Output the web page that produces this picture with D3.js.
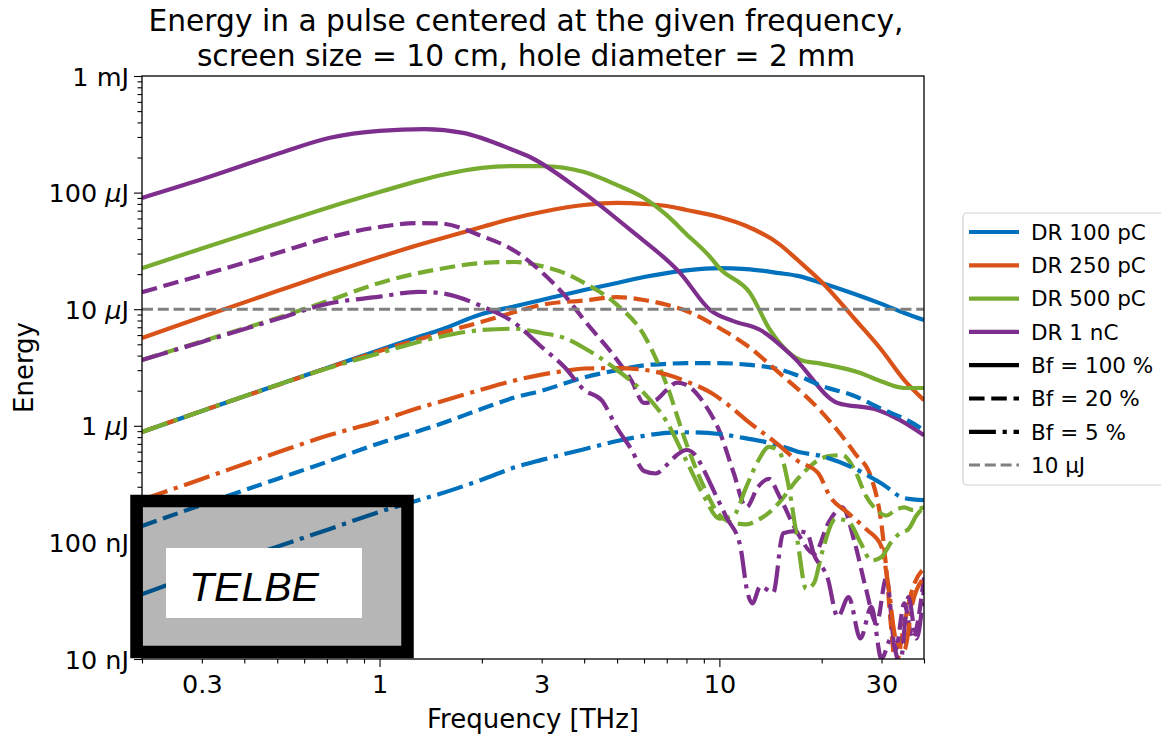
<!DOCTYPE html>
<html><head><meta charset="utf-8">
<script src="https://cdn.jsdelivr.net/npm/d3@7"></script>
<style>
body{margin:0;background:#fff}
svg{display:block}
text{font-family:"DejaVu Sans",sans-serif;fill:#000}
</style>
</head><body>
<svg id="chart" width="1161" height="738"></svg>
<script>
// ---------- data (frequency in THz, energy in µJ) ----------
const colors = {"DR 100 pC":"#0072BD","DR 250 pC":"#D95319","DR 500 pC":"#77AC30","DR 1 nC":"#7E2F8E"};
const charges = ["DR 100 pC","DR 250 pC","DR 500 pC","DR 1 nC"];
const bunchFactors = ["Bf = 100 %","Bf = 20 %","Bf = 5 %"];

const freqGrid = [0.2,0.3,0.5,0.7,1,1.3,1.5,2,2.5,3,4,5,6,7,8,10,12,15,17,20,25,30,35,40];

const f_DR100_Bf100 = freqGrid;
const e_DR100_Bf100 = [0.885,1.34,2.24,3.13,4.47,5.78,6.6,9.1,10.6,12.0,14.6,16.8,18.9,20.4,21.5,22.5,22.1,20.4,19.3,16.8,13.5,11.1,9.27,8.07];
const f_DR250_Bf100 = freqGrid;
const e_DR250_Bf100 = [5.66,8.57,14.3,20.0,28.0,35.5,40.0,50.7,60.6,68.2,78.3,81.5,80,76.8,71,61.8,51.7,36.2,26.4,17.1,8.24,4.47,2.47,1.66];
const f_DR500_Bf100 = [0.2,0.3,0.5,0.7,1,1.3,1.5,2,2.5,3,4,5,6,7,8,9.4,10,12.3,14.1,17.3,20,26,30,35,40];
const e_DR500_Bf100 = [22.5,33.2,53.8,73.8,101,126,140,163,169,169,150,116,90,64,44,28,22.5,13.8,6.63,3.67,3.4,2.84,2.4,2.11,2.11];
const f_DR1000_Bf100 = [0.2,0.3,0.5,0.715,1,1.36,1.76,2.47,2.77,3.89,5.47,7.67,9.4,11,13.2,16.5,22.3,29.1,34,40];
const e_DR1000_Bf100 = [90,130,214,295,338,350,325,232,202,105,47.8,20.4,9.84,7.9,6.63,3.89,1.57,1.37,1.12,0.83];

const f_DR100_Bf20 = freqGrid;
const e_DR100_Bf20 = [0.138,0.21,0.35,0.49,0.71,0.9,1.03,1.4,1.75,2.0,2.6,3.0,3.3,3.4,3.45,3.45,3.35,3.05,2.7,2.2,1.8,1.4,1.15,0.92];
const f_DR250_Bf20 = [0.2,0.3,0.5,0.7,1,1.3,1.5,2,2.5,3,4,5,6,7,8,10,12,15,20,25,28,30,31,32,33,35,37,40];
const e_DR250_Bf20 = [0.885,1.34,2.23,3.12,4.37,5.5,6.2,7.8,9.45,10.9,11.9,12.7,12.0,10.9,9.66,6.9,4.93,2.84,1.31,0.585,0.356,0.141,0.058,0.0188,0.009,0.02,0.04,0.06];
const f_DR500_Bf20 = [0.2,0.3,0.5,0.7,1,1.3,1.5,2,2.5,3,3.5,4,5,6,7,8,9,10,11,12,13,14,15,17,19,21,23,25,27,29,31,33,35,37,40];
const e_DR500_Bf20 = [3.67,5.3,8.4,11.7,16.8,20.4,22.1,24.9,25.4,23.4,20.4,16.8,10.9,6.0,2.24,0.7,0.3,0.172,0.147,0.143,0.156,0.18,0.22,0.35,0.48,0.55,0.56,0.42,0.25,0.19,0.17,0.19,0.2,0.19,0.2];
const f_DR1000_Bf20 = [0.2,0.3,0.5,0.7,1,1.3,1.5,2,2.5,3,3.5,4,5,5.5,6,6.5,7,7.5,8,9,10,11,12,13,14,15,17,19,21,23,25,27,29,31,33,35,37,40];
const e_DR1000_Bf20 = [14.0,19.6,30.3,40.8,50.7,54.8,54.5,42.4,31.6,20.8,13.2,8.07,3.67,2.47,1.57,1.66,2.03,2.35,2.24,1.57,0.9,0.4,0.2,0.3,0.35,0.25,0.12,0.08,0.15,0.2,0.1,0.04,0.02,0.05,0.012,0.03,0.015,0.05];

const f_DR100_Bf5 = freqGrid;
const e_DR100_Bf5 = [0.036,0.055,0.092,0.128,0.183,0.23,0.26,0.345,0.44,0.51,0.63,0.74,0.82,0.87,0.88,0.85,0.78,0.68,0.6,0.55,0.43,0.32,0.24,0.23];
const f_DR250_Bf5 = [0.2,0.3,0.5,0.7,1,1.3,1.5,2,2.5,3,3.5,4,5,6,7,8,9.5,10.5,12,14.8,17,19.5,21.2,23.9,27.2,29.9,31.5,33,35,37,40];
const e_DR250_Bf5 = [0.232,0.35,0.59,0.82,1.1,1.42,1.6,2.05,2.45,2.75,2.95,3.1,3.12,3.02,2.75,2.4,1.9,1.55,1.12,0.7,0.5,0.394,0.245,0.179,0.128,0.094,0.04,0.015,0.012,0.03,0.05];
const f_DR500_Bf5 = [0.2,0.3,0.5,0.7,1,1.3,1.5,2,2.5,3,3.5,4,5,6,7,8,9,10,11,12,13,14,15,16,17,18,19,20,22,24,26,28,30,32,34,36,38,40];
const e_DR500_Bf5 = [0.885,1.34,2.24,3.1,4.2,5.24,5.78,6.63,6.8,6.25,5.66,4.65,3.01,1.91,1.08,0.5,0.25,0.16,0.17,0.3,0.5,0.66,0.6,0.3,0.1,0.04,0.045,0.08,0.16,0.15,0.1,0.07,0.075,0.1,0.12,0.13,0.17,0.2];
const f_DR1000_Bf5 = [0.2,0.3,0.5,0.7,1,1.3,1.5,2,2.5,3,3.5,4,4.5,5,5.5,6,6.5,7,7.5,8,8.5,9,9.5,10.5,11.5,12.1,12.5,13.2,14.4,15.4,16.9,18.1,19,20.8,22.3,24,26,28,30,32,34,36,38,40];
const e_DR1000_Bf5 = [3.67,5.24,8.24,11.1,12.8,14.1,13.8,10.6,7.6,4.74,3.19,2.03,1.66,0.957,0.632,0.41,0.39,0.461,0.562,0.62,0.56,0.418,0.30,0.163,0.095,0.037,0.03,0.042,0.037,0.12,0.125,0.12,0.078,0.05,0.023,0.034,0.015,0.028,0.01,0.015,0.009,0.034,0.015,0.041];

const referenceLevel = 10; // µJ
const xTickValuesMajor = [1,10];
const xTickValuesMinor = [0.2,0.3,0.4,0.5,0.6,0.7,0.8,0.9,2,3,4,5,6,7,8,9,20,30,40];
const xTickLabels = {0.3:"0.3",1:"1",3:"3",10:"10",30:"30"};
const yTickValuesMajor = [0.01,0.1,1,10,100,1000];
const yTickLabels = [["10 ","nJ"],["100 ","nJ"],["1 ","µJ"],["10 ","µJ"],["100 ","µJ"],["1 ","mJ"]];
const titleLines = ["Energy in a pulse centered at the given frequency,","screen size = 10 cm, hole diameter = 2 mm"];

const series = [
  [f_DR100_Bf100,e_DR100_Bf100,0,0],[f_DR250_Bf100,e_DR250_Bf100,1,0],[f_DR500_Bf100,e_DR500_Bf100,2,0],[f_DR1000_Bf100,e_DR1000_Bf100,3,0],
  [f_DR100_Bf20,e_DR100_Bf20,0,1],[f_DR250_Bf20,e_DR250_Bf20,1,1],[f_DR500_Bf20,e_DR500_Bf20,2,1],[f_DR1000_Bf20,e_DR1000_Bf20,3,1],
  [f_DR100_Bf5,e_DR100_Bf5,0,2],[f_DR250_Bf5,e_DR250_Bf5,1,2],[f_DR500_Bf5,e_DR500_Bf5,2,2],[f_DR1000_Bf5,e_DR1000_Bf5,3,2]
];

// ---------- layout ----------
const svg = d3.select("#chart");
const L=142, R=924, T=76, B=659;
const x = d3.scaleLog().domain([0.2,40]).range([L,R]);
const y = d3.scaleLog().domain([0.01,1000]).range([B,T]);
const LW = 4.2;
const dashes = [null, `${3.7*LW},${1.6*LW}`, `${6.4*LW},${1.6*LW},${1*LW},${1.6*LW}`];

svg.append("defs").append("clipPath").attr("id","clip")
  .append("rect").attr("x",L).attr("y",T).attr("width",R-L).attr("height",B-T);

const plot = svg.append("g").attr("clip-path","url(#clip)");
const line = d3.line().x(d=>x(d[0])).y(d=>y(d[1])).curve(d3.curveMonotoneX);

series.forEach(([fs,es,ci,bi])=>{
  plot.append("path")
    .datum(fs.map((f,i)=>[f,es[i]]))
    .attr("d",line)
    .attr("fill","none")
    .attr("stroke",colors[charges[ci]])
    .attr("stroke-width",LW)
    .attr("stroke-dasharray",dashes[bi])
    .attr("stroke-linejoin","round");
});

// 10 µJ reference
plot.append("line")
  .attr("x1",L).attr("x2",R).attr("y1",y(referenceLevel)).attr("y2",y(referenceLevel))
  .attr("stroke","#808080").attr("stroke-width",3).attr("stroke-dasharray","11,4.8");

// TELBE box
svg.append("rect").attr("x",136.5).attr("y",501).attr("width",271).attr("height",151)
  .attr("fill","rgba(0,0,0,0.285)").attr("stroke","#000").attr("stroke-width",12.5);
svg.append("rect").attr("x",166).attr("y",548).attr("width",196).attr("height",70).attr("fill","#fff");
svg.append("text").attr("x",189).attr("y",601)
  .style("font-family","'Liberation Sans',Arial,sans-serif").style("font-style","italic")
  .style("font-size","41px").text("TELBE");

// axes
const xMinor = d3.axisBottom(x).tickValues(xTickValuesMinor).tickSize(4.5)
  .tickFormat(d=>xTickLabels[d]||"");
const xMajor = d3.axisBottom(x).tickValues(xTickValuesMajor).tickSize(8)
  .tickFormat(d=>xTickLabels[d]||"");
[xMinor,xMajor].forEach(ax=>{
  const g = svg.append("g").attr("transform",`translate(0,${B})`).call(ax);
  g.select(".domain").remove();
  g.selectAll("line").attr("stroke","#000").attr("stroke-width",1.1);
  g.selectAll("text").attr("dy",null).attr("y",34)
    .style("font-size","25.5px").style("font-family","'DejaVu Sans',sans-serif");
});

const yMinorVals = [];
for(let p=-2;p<3;p++){for(let k=2;k<10;k++){yMinorVals.push(k*Math.pow(10,p));}}
const yMinor = d3.axisLeft(y).tickValues(yMinorVals).tickSize(4.5).tickFormat("");
const gyMin = svg.append("g").attr("transform",`translate(${L},0)`).call(yMinor);
gyMin.select(".domain").remove();
gyMin.selectAll("line").attr("stroke","#000").attr("stroke-width",1.1);
const yMajor = d3.axisLeft(y).tickValues(yTickValuesMajor).tickSize(8).tickFormat("");
const gyMaj = svg.append("g").attr("transform",`translate(${L},0)`).call(yMajor);
gyMaj.select(".domain").remove();
gyMaj.selectAll("line").attr("stroke","#000").attr("stroke-width",1.1);
gyMaj.selectAll(".tick").each(function(d,i){
  const t = d3.select(this).append("text").attr("x",-13).attr("dy","0.36em")
    .attr("text-anchor","end").style("font-size","25.5px");
  const lab = yTickLabels[i];
  t.append("tspan").text(lab[0]);
  if(lab[1]==="µJ"){
    t.append("tspan").style("font-style","italic").text("µ");
    t.append("tspan").text("J");
  } else t.append("tspan").text(lab[1]);
});

// frame
svg.append("rect").attr("x",L).attr("y",T).attr("width",R-L).attr("height",B-T)
  .attr("fill","none").attr("stroke","#000").attr("stroke-width",1.3);

// labels
svg.append("text").attr("x",(L+R)/2).attr("y",728).attr("text-anchor","middle")
  .style("font-size","26px").text("Frequency [THz]");
svg.append("text").attr("transform",`translate(33,${(T+B)/2}) rotate(-90)`).attr("text-anchor","middle")
  .style("font-size","26px").text("Energy");
titleLines.forEach((t,i)=>{
  svg.append("text").attr("x",526).attr("y",31+i*35).attr("text-anchor","middle")
    .style("font-size","29.7px").text(t);
});

// legend
const lg = svg.append("g");
lg.append("rect").attr("x",963).attr("y",213).attr("width",215).attr("height",272).attr("rx",4)
  .attr("fill","#fff").attr("stroke","#d0d0d0").attr("stroke-width",1.2);
const legendItems = charges.map(c=>({label:c,color:colors[c],dash:null}))
  .concat(bunchFactors.map((b,i)=>({label:b,color:"#000",dash:dashes[i]})))
  .concat([{label:"10 µJ",color:"#808080",dash:"11,4.8",w:3}]);
legendItems.forEach((it,i)=>{
  const yy = 232 + i*33.3;
  lg.append("line").attr("x1",969).attr("x2",1019).attr("y1",yy).attr("y2",yy)
    .attr("stroke",it.color).attr("stroke-width",it.w||LW).attr("stroke-dasharray",it.dash);
  lg.append("text").attr("x",1031).attr("y",yy).attr("dy","0.36em").style("font-size","21.5px").text(it.label);
});
</script>
</body></html>
